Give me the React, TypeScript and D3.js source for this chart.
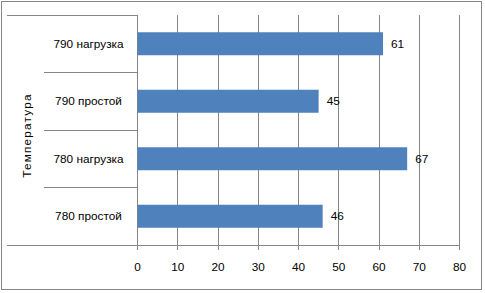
import React from "react";
import * as d3 from "d3";

const categories = ["790 нагрузка", "790 простой", "780 нагрузка", "780 простой"];
const values = [61, 45, 67, 46];
const xTicks = [0, 10, 20, 30, 40, 50, 60, 70, 80];
const axisTitle = "Температура";

export default function App() {
  const W = 485, H = 293;
  const plotTop = 15, plotBottom = 245, plotLeft = 137.5, plotRight = 459.5;
  const x = d3.scaleLinear().domain([0, 80]).range([plotLeft, plotRight]);
  const y = d3.scaleBand<string>().domain(categories).range([plotTop, plotBottom]).paddingInner(0.6).paddingOuter(0.3);
  const step = y.step();
  const crisp = (v: number) => Math.round(v - 0.5) + 0.5;
  const font = "'Liberation Sans', Arial, sans-serif";
  const grey = "#868686";
  const fs = 11.8;
  return (
    <svg width={W} height={H} style={{ position: "absolute", left: 0, top: 0, background: "#fff" }} fontFamily={font}>
      <rect x={1.5} y={1.5} width={480} height={288} fill="#fff" stroke={grey} strokeWidth={1} />
      {xTicks.map((t) => (
        <line key={"g" + t} x1={crisp(x(t))} x2={crisp(x(t))} y1={plotTop} y2={plotBottom + 5} stroke={grey} strokeWidth={1} />
      ))}
      <line x1={7} x2={crisp(x(0))} y1={plotTop + 0.5} y2={plotTop + 0.5} stroke={grey} />
      <line x1={7} x2={crisp(x(0))} y1={plotBottom + 0.5} y2={plotBottom + 0.5} stroke={grey} />
      {categories.slice(1).map((c) => {
        const yy = crisp((y(c) as number) - (step - y.bandwidth()) / 2);
        return <line key={"s" + c} x1={44} x2={crisp(x(0))} y1={yy} y2={yy} stroke={grey} />;
      })}
      <line x1={plotLeft} x2={crisp(x(80)) + 0.5} y1={plotBottom + 0.5} y2={plotBottom + 0.5} stroke={grey} />
      {categories.map((c, i) => (
        <rect key={"b" + c} x={x(0)} y={y(c) as number} width={x(values[i]) - x(0)} height={y.bandwidth()} fill="#4F81BD" />
      ))}
      {categories.map((c, i) => (
        <text key={"v" + c} x={x(values[i]) + 8} y={(y(c) as number) + y.bandwidth() / 2} dy="0.35em" fontSize={fs} fill="#000">
          {values[i]}
        </text>
      ))}
      {categories.map((c) => (
        <text key={"c" + c} x={88.5} y={(y(c) as number) + y.bandwidth() / 2} dy="0.35em" fontSize={fs} textAnchor="middle" fill="#000">
          {c}
        </text>
      ))}
      {xTicks.map((t) => (
        <text key={"t" + t} x={x(t)} y={267} dy="0.35em" fontSize={fs} textAnchor="middle" fill="#000">
          {t}
        </text>
      ))}
      <text transform={`translate(31,135.5) rotate(-90)`} textAnchor="middle" fontSize={fs} letterSpacing={1.2} fill="#000">
        {axisTitle}
      </text>
    </svg>
  );
}
